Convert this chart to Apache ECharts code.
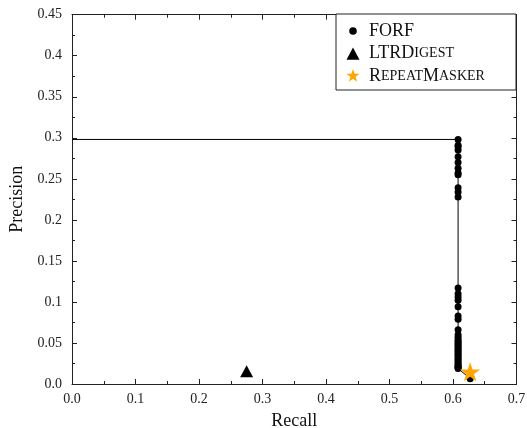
<!DOCTYPE html>
<html><head><meta charset="utf-8">
<script src="https://cdn.jsdelivr.net/npm/echarts@6/dist/echarts.min.js"></script>
<style>html,body{margin:0;padding:0;background:#fff}#c{width:527px;height:428px}</style>
</head><body><div id="c"></div>
<script>
var xTicks = ['0.0','0.1','0.2','0.3','0.4','0.5','0.6','0.7'];
var yTicks = ['0.0','0.05','0.1','0.15','0.2','0.25','0.3','0.35','0.4','0.45'];
// FORF precision-recall curve (recall, precision)
var forfRecall = [0.0, 0.608,0.608,0.608,0.608,0.608,0.608,0.608,0.608,0.608,0.608,0.608,0.608,
  0.608,0.608,0.608,0.608,0.608,0.608,0.608,0.608,0.608,0.608,
  0.608,0.608,0.608,0.608,0.608,0.608,0.608,0.608,0.608,0.608,0.608,0.608,0.608,0.608,0.608,0.608,0.608,0.608,0.608,0.608,
  0.627];
var forfPrecision = [0.298, 0.298,0.291,0.289,0.285,0.277,0.270,0.263,0.257,0.255,0.239,0.234,0.228,
  0.117,0.110,0.106,0.102,0.094,0.083,0.079,0.066,0.060,0.057,
  0.054,0.052,0.050,0.048,0.046,0.044,0.042,0.040,0.038,0.036,0.034,0.032,0.030,0.028,0.026,0.024,0.022,0.021,0.020,0.019,
  0.0065];
var ltrRecall = [0.275], ltrPrecision = [0.0155];
var rmRecall = [0.627], rmPrecision = [0.015];

var FONT = '"Liberation Serif", "DejaVu Serif", serif';
var BIG = 18, SMALL = 14;

var starPath = 'path://M50,0 L61.17,34.63 L97.55,34.55 L68.07,55.87 L79.39,90.45 L50,69 L20.61,90.45 L31.93,55.87 L2.45,34.55 L38.83,34.63 Z';
// legend icons (22x16 px box, 10 units per px) with invisible corner anchors
var anchors = 'M0,0 L0.1,0 L0,0.1 Z M220,160 L219.9,160 L220,159.9 Z ';
var legCircle = 'path://' + anchors + 'M110,42 A38,38 0 1,1 110,118 A38,38 0 1,1 110,42 Z';
var legTri = 'path://' + anchors + 'M45,142 L175,142 L110,20 Z';
function starAt(cx, cy, s){
  var pts=[[50,0],[61.17,34.63],[97.55,34.55],[68.07,55.87],[79.39,90.45],[50,69],[20.61,90.45],[31.93,55.87],[2.45,34.55],[38.83,34.63]];
  return pts.map(function(p,i){return (i?'L':'M')+(cx+(p[0]-50)*s).toFixed(2)+','+(cy+(p[1]-50)*s).toFixed(2);}).join(' ')+' Z';
}
var legStar = 'path://' + anchors + starAt(110, 80, 1.4);

var forfData = forfRecall.map(function(r,i){
  var d = {value:[r, forfPrecision[i]]};
  if (i === 0) d.symbol = 'none';
  return d;
});
function zip(a,b){return a.map(function(v,i){return [v,b[i]];});}

// measure legend text to size the legend box like the reference (182px wide)
var ctx = document.createElement('canvas').getContext('2d');
function tw(parts){var w=0;parts.forEach(function(p){ctx.font=p[1]+'px '+FONT;w+=ctx.measureText(p[0]).width;});return w;}
var maxW = Math.max(tw([['FORF',BIG]]), tw([['LTRD',BIG],['IGEST',SMALL]]), tw([['R',BIG],['EPEAT',SMALL],['M',BIG],['ASKER',SMALL]]));
var padL = 6, padR = Math.max(4, 182 - 2 - padL - 22 - 5 - maxW);

var axisCommon = {
  axisLine:{show:true, onZero:false, lineStyle:{color:'#222', width:1}},
  axisTick:{show:true, inside:true, length:5, lineStyle:{color:'#222'}},
  minorTick:{show:true, splitNumber:2, length:3, lineStyle:{color:'#222'}},
  splitLine:{show:false}
};
function merge(a,b){var o={};for(var k in a)o[k]=a[k];for(var k2 in b)o[k2]=b[k2];return o;}

var chart = echarts.init(document.getElementById('c'), null, {renderer:'canvas'});
chart.setOption({
  animation:false,
  textStyle:{fontFamily:FONT},
  grid:{left:72, right:10.5, top:14.7, bottom:44, containLabel:false, outerBoundsMode:'none'},
  xAxis:[
    merge(axisCommon,{type:'value', min:0, max:0.7, interval:0.1, position:'bottom',
      name:'Recall', nameLocation:'middle', nameGap:28,
      nameTextStyle:{fontFamily:FONT, fontSize:18, color:'#111'},
      axisLabel:{fontFamily:FONT, fontSize:14, color:'#222', margin:8,
        formatter:function(v){return xTicks[Math.round(v*10)];}}}),
    merge(axisCommon,{type:'value', min:0, max:0.7, interval:0.1, position:'top', axisLabel:{show:false}})
  ],
  yAxis:[
    merge(axisCommon,{type:'value', min:0, max:0.45, interval:0.05, position:'left',
      name:'Precision', nameLocation:'middle', nameGap:46, nameRotate:90,
      nameTextStyle:{fontFamily:FONT, fontSize:18, color:'#111'},
      axisLabel:{fontFamily:FONT, fontSize:14, color:'#222', margin:10,
        formatter:function(v){return yTicks[Math.round(v*20)];}}}),
    merge(axisCommon,{type:'value', min:0, max:0.45, interval:0.05, position:'right', axisLabel:{show:false}})
  ],
  legend:{
    orient:'vertical', right:11, top:14, backgroundColor:'#fff',
    borderColor:'#222', borderWidth:1, borderRadius:0, padding:[8, padR, 5, padL], itemGap:4.5,
    itemWidth:22, itemHeight:16,
    data:[
      {name:'FORF', icon:legCircle},
      {name:'LTRDigest', icon:legTri},
      {name:'RepeatMasker', icon:legStar}
    ],
    formatter:function(n){
      if(n==='FORF') return '{b|FORF}';
      if(n==='LTRDigest') return '{b|LTRD}{s|IGEST}';
      return '{b|R}{s|EPEAT}{b|M}{s|ASKER}';
    },
    textStyle:{fontFamily:FONT, color:'#111', rich:{
      b:{fontFamily:FONT, fontSize:BIG, color:'#111', lineHeight:16},
      s:{fontFamily:FONT, fontSize:SMALL, color:'#111', lineHeight:16}
    }}
  },
  series:[
    {name:'FORF', type:'line', data:forfData, symbol:'circle', symbolSize:7,
      showAllSymbol:true, lineStyle:{color:'#000', width:1}, itemStyle:{color:'#000'}, z:3},
    {name:'LTRDigest', type:'scatter', data:zip(ltrRecall,ltrPrecision), symbol:'triangle', symbolSize:[13,12],
      itemStyle:{color:'#000', opacity:1}},
    {name:'RepeatMasker', type:'scatter', data:zip(rmRecall,rmPrecision), symbol:starPath, symbolKeepAspect:true,
      symbolSize:20, itemStyle:{color:'#FFA500', opacity:1}, z:4}
  ]
});
</script></body></html>
